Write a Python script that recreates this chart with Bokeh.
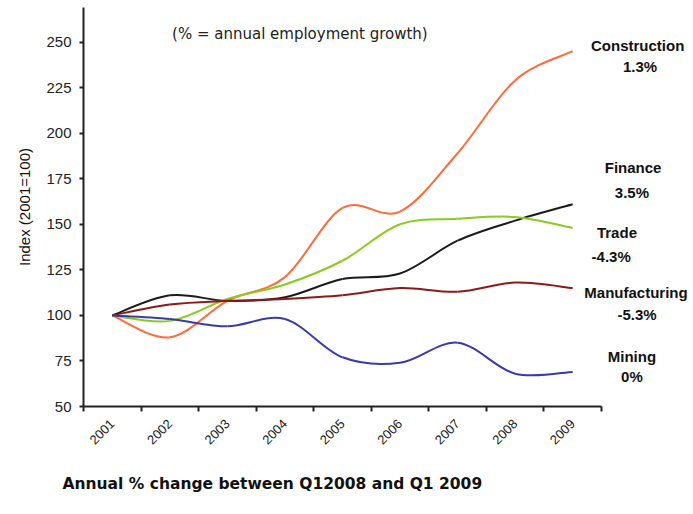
import numpy as np
from bokeh.plotting import figure
from bokeh.models import Range1d, FixedTicker, Label, ColumnDataSource, Title
from bokeh.embed import file_html
from bokeh.resources import INLINE

# ---- data ----
years = ["2001", "2002", "2003", "2004", "2005", "2006", "2007", "2008", "2009"]
construction = [100, 88, 108, 121, 159, 157, 189, 229, 245]
finance = [100, 111, 108, 110, 120, 123, 141, 152, 161]
trade = [100, 97, 109, 117, 130, 150, 153, 154, 148]
manufacturing = [100, 106, 108, 109, 111, 115, 113, 118, 115]
mining = [100, 98, 94, 98, 77, 74, 85, 68, 69]

sector_names = ["Construction", "Finance", "Trade", "Manufacturing", "Mining"]
growth_labels = ["1.3%", "3.5%", "-4.3%", "-5.3%", "0%"]
y_ticks = [50, 75, 100, 125, 150, 175, 200, 225, 250]

series = [construction, finance, trade, manufacturing, mining]
colors = ["#FF6A3A", "#1A1A1A", "#8CCB1E", "#8B1A1A", "#3A3AA8"]

p = figure(width=693, height=514, output_backend="svg", toolbar_location=None,
           x_range=Range1d(-0.5, 10.1), y_range=Range1d(50, 269))
p.min_border_left = 83
p.min_border_right = 0
p.min_border_top = 7
p.min_border_bottom = 108
p.outline_line_color = None
p.xgrid.visible = False
p.ygrid.visible = False
p.background_fill_color = "white"
p.border_fill_color = "white"

xs = np.arange(len(years), dtype=float)


def smooth_segments(xv, yv):
    xv = np.asarray(xv, dtype=float)
    yv = np.asarray(yv, dtype=float)
    n = len(xv)
    d = dict(x0=[], y0=[], x1=[], y1=[], cx0=[], cy0=[], cx1=[], cy1=[])
    for i in range(n - 1):
        im1 = max(i - 1, 0)
        ip2 = min(i + 2, n - 1)
        d["x0"].append(xv[i]); d["y0"].append(yv[i])
        d["x1"].append(xv[i + 1]); d["y1"].append(yv[i + 1])
        d["cx0"].append(xv[i] + (xv[i + 1] - xv[im1]) / 6.0)
        d["cy0"].append(yv[i] + (yv[i + 1] - yv[im1]) / 6.0)
        d["cx1"].append(xv[i + 1] - (xv[ip2] - xv[i]) / 6.0)
        d["cy1"].append(yv[i + 1] - (yv[ip2] - yv[i]) / 6.0)
    return ColumnDataSource(d)


for vals, col in zip(series, colors):
    src = smooth_segments(xs, vals)
    p.bezier(x0="x0", y0="y0", x1="x1", y1="y1", cx0="cx0", cy0="cy0",
             cx1="cx1", cy1="cy1", source=src, line_color=col, line_width=2)

# ---- axes ----
xt = FixedTicker(ticks=list(xs), minor_ticks=[i - 0.5 for i in range(len(years) + 1)])
p.xaxis.ticker = xt
p.xaxis.bounds = (-0.5, len(years) - 0.5)
p.xaxis.major_label_overrides = {int(i): y for i, y in enumerate(years)}
p.xaxis.major_label_orientation = np.pi / 4
p.xaxis.major_tick_out = 0
p.xaxis.major_tick_in = 0
p.xaxis.minor_tick_out = 5
p.xaxis.minor_tick_in = 0
p.xaxis.minor_tick_line_color = "#222222"
p.xaxis.minor_tick_line_width = 2
p.xaxis.major_label_standoff = 10
p.xaxis.major_label_text_font = "Liberation Sans"
p.xaxis.major_label_text_font_size = "13px"
p.xaxis.major_label_text_color = "#222222"

p.yaxis.ticker = FixedTicker(ticks=y_ticks)
p.yaxis.major_tick_out = 4
p.yaxis.major_tick_in = 0
p.yaxis.minor_tick_out = 0
p.yaxis.minor_tick_in = 0
p.yaxis.major_tick_line_width = 2
p.yaxis.major_label_standoff = 8
p.yaxis.major_label_text_font = "Liberation Sans"
p.yaxis.major_label_text_font_size = "15px"
p.yaxis.major_label_text_color = "#222222"
p.yaxis.axis_label = "Index (2001=100)"
p.yaxis.axis_label_text_font = "Liberation Sans"
p.yaxis.axis_label_text_font_size = "15px"
p.yaxis.axis_label_text_font_style = "normal"
p.yaxis.axis_label_text_color = "#111111"
p.yaxis.axis_label_standoff = 10

for ax in (p.xaxis, p.yaxis):
    ax.axis_line_color = "#222222"
    ax.axis_line_width = 2
    ax.major_tick_line_color = "#222222"

# ---- annotations ----
name_pos = [(9.13, 248.1), (9.05, 181.2), (8.77, 145.5), (9.10, 112.6), (9.03, 77.4)]
pct_pos = [(9.17, 236.6), (9.03, 167.5), (8.67, 132.3), (9.12, 100.5), (9.03, 66.5)]
for name, pct, (nx, ny), (qx, qy) in zip(sector_names, growth_labels, name_pos, pct_pos):
    p.add_layout(Label(x=nx, y=ny, text=name, text_align="center", text_baseline="middle",
                       text_font="Liberation Sans", text_font_size="15px",
                       text_font_style="bold", text_color="#111111"))
    p.add_layout(Label(x=qx, y=qy, text=pct, text_align="center", text_baseline="middle",
                       text_font="Liberation Sans", text_font_size="15px",
                       text_font_style="bold", text_color="#111111"))

p.add_layout(Label(x=3.26, y=254.2, text="(% = annual employment growth)",
                   text_align="center", text_baseline="middle",
                   text_font="DejaVu Sans", text_font_size="15px", text_color="#222222"))

note = Title(text="Annual %  change between Q12008 and Q1 2009", align="left",
             offset=-21, standoff=43, text_font="DejaVu Sans", text_font_size="15.5px",
             text_font_style="bold", text_color="#111111")
p.add_layout(note, "below")

open("out.html", "w").write(file_html(p, INLINE))
